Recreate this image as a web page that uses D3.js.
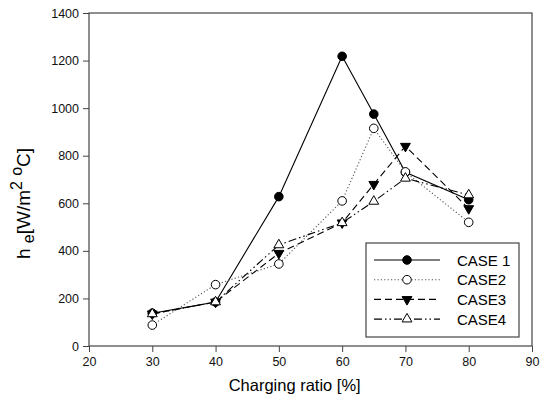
<!DOCTYPE html>
<html>
<head>
<meta charset="utf-8">
<script src="https://cdn.jsdelivr.net/npm/d3@7"></script>
<style>
  body { margin: 0; background: #fff; }
  text { font-family: "Liberation Sans", Arial, sans-serif; }
</style>
</head>
<body>
<div id="chart"></div>
<script>
// data
var ratios = [30, 40, 50, 60, 65, 70, 80];
var case1 = [138, 185, 628, 1218, 975, 730, 615];
var case2 = [88, 258, 345, 610, 915, 732, 520];
var case3 = [135, 185, 390, 518, 680, 840, 578];
var case4 = [135, 185, 425, 518, 608, 705, 635];
var seriesNames = ["CASE 1", "CASE2", "CASE3", "CASE4"];
var xTicks = [20, 30, 40, 50, 60, 70, 80, 90];
var yTicks = [0, 200, 400, 600, 800, 1000, 1200, 1400];

var W = 545, H = 407;
var margin = {top: 13, right: 13, bottom: 61, left: 89},
    width = W - margin.left - margin.right,
    height = H - margin.top - margin.bottom;

var svg = d3.select("#chart").append("svg")
    .attr("width", W).attr("height", H)
  .append("g")
    .attr("transform", "translate(" + margin.left + "," + margin.top + ")");

var x = d3.scaleLinear().domain([20, 90]).range([0, width]);
var y = d3.scaleLinear().domain([0, 1400]).range([height, 0]);

// frame
svg.append("rect")
    .attr("width", width).attr("height", height)
    .attr("fill", "none").attr("stroke", "#444").attr("stroke-width", 1.2);

var xAxis = svg.append("g")
    .attr("transform", "translate(0," + height + ")")
    .call(d3.axisBottom(x).tickValues(xTicks).tickFormat(d3.format("d")).tickSize(6).tickPadding(5));
var yAxis = svg.append("g")
    .call(d3.axisLeft(y).tickValues(yTicks).tickFormat(d3.format("d")).tickSize(6).tickPadding(4));

[xAxis, yAxis].forEach(function(a) {
  a.select(".domain").remove();
  a.selectAll("line").attr("stroke", "#444");
  a.selectAll("text").style("font-size", "12.5px").attr("fill", "#111");
});

// axis titles
svg.append("text")
    .attr("x", x(52.5)).attr("y", height + 45)
    .attr("text-anchor", "middle")
    .style("font-size", "16.5px")
    .text("Charging ratio [%]");

var yl = svg.append("text")
    .attr("transform", "translate(-59," + (height / 2 + 24) + ") rotate(-90)")
    .attr("text-anchor", "middle")
    .style("font-size", "19px");
yl.append("tspan").text("h ");
yl.append("tspan").attr("dy", 4).style("font-size", "16px").text("e");
yl.append("tspan").attr("dy", -4).text("[W/m");
yl.append("tspan").attr("dy", -8).style("font-size", "16px").text("2");
yl.append("tspan").attr("dy", 8).text(" ");
yl.append("tspan").attr("dy", -8).style("font-size", "16px").text("o");
yl.append("tspan").attr("dy", 8).text("C]");

var styles = [
  {vals: case1, dash: null, marker: "circle", fill: "#000"},
  {vals: case2, dash: "1.2,2.2", marker: "circle", fill: "#fff"},
  {vals: case3, dash: "7,4", marker: "down", fill: "#000"},
  {vals: case4, dash: "8,3,1.5,3,1.5,3", marker: "up", fill: "#fff"}
];

var line = d3.line()
    .x(function(d) { return x(d[0]); })
    .y(function(d) { return y(d[1]); });

var tri = d3.symbol().type(d3.symbolTriangle).size(42);

function drawMarker(g, m, fill) {
  if (m === "circle") {
    g.append("circle").attr("r", 4.3)
      .attr("fill", fill).attr("stroke", "#000").attr("stroke-width", 1);
  } else {
    g.append("path").attr("d", tri)
      .attr("transform", m === "down" ? "rotate(180)" : null)
      .attr("fill", fill).attr("stroke", "#000").attr("stroke-width", 1);
  }
}

styles.forEach(function(s) {
  var pts = ratios.map(function(r, i) { return [r, s.vals[i]]; });
  svg.append("path")
      .datum(pts)
      .attr("d", line)
      .attr("fill", "none")
      .attr("stroke", s.dash === "1.2,2.2" ? "#555" : "#000")
      .attr("stroke-width", 1.1)
      .attr("stroke-dasharray", s.dash);
});

styles.forEach(function(s) {
  ratios.forEach(function(r, i) {
    var g = svg.append("g")
        .attr("transform", "translate(" + x(r) + "," + y(s.vals[i]) + ")");
    drawMarker(g, s.marker, s.fill);
  });
});

// legend
var lx = 277, ly = 230, lw = 153, lh = 94;
var legend = svg.append("g").attr("transform", "translate(" + lx + "," + ly + ")");
legend.append("rect")
    .attr("width", lw).attr("height", lh)
    .attr("fill", "#fff").attr("stroke", "#444").attr("stroke-width", 1.2);

seriesNames.forEach(function(name, i) {
  var s = styles[i];
  var row = legend.append("g").attr("transform", "translate(0," + (17 + i * 19.7) + ")");
  row.append("line")
      .attr("x1", 8).attr("x2", 74)
      .attr("stroke", s.dash === "1.2,2.2" ? "#555" : "#000")
      .attr("stroke-width", 1.1)
      .attr("stroke-dasharray", s.dash);
  var mg = row.append("g").attr("transform", "translate(41,0)");
  drawMarker(mg, s.marker, s.fill);
  row.append("text")
      .attr("x", 91).attr("y", 5.5)
      .style("font-size", "15px")
      .text(name);
});
</script>
</body>
</html>
